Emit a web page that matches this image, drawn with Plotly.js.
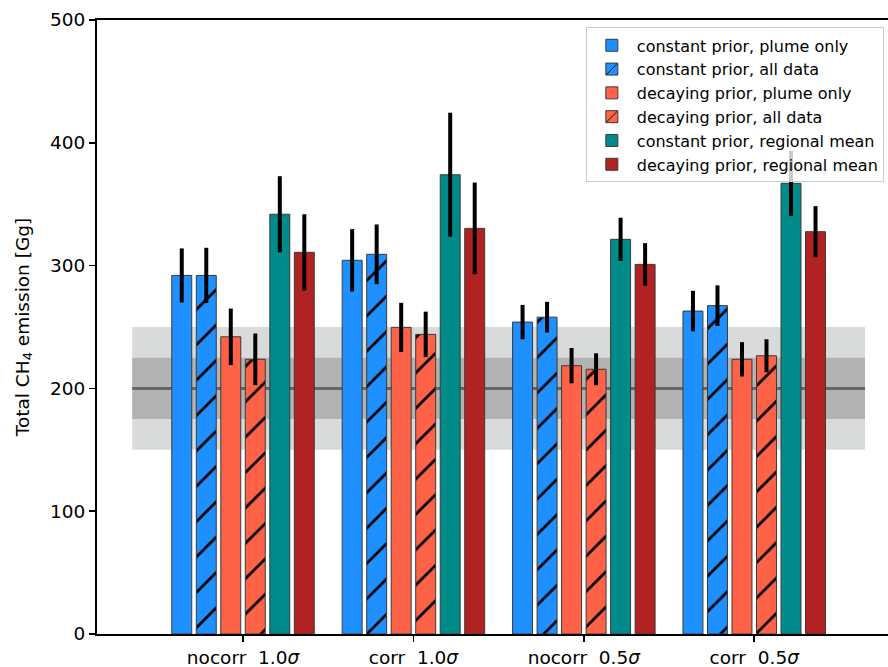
<!DOCTYPE html>
<html>
<head>
<meta charset="utf-8">
<script src="https://cdn.plot.ly/plotly-3.0.1.min.js"></script>
<style>
html, body { margin: 0; padding: 0; background: #fff; overflow: hidden; }
#chart { width: 888px; height: 667px; }
</style>
</head>
<body>
<div id="chart"></div>
<script>
// ---- data ----
const groups = ["nocorr&nbsp;&nbsp;1.0<i>σ</i>", "corr&nbsp;&nbsp;1.0<i>σ</i>", "nocorr&nbsp;&nbsp;0.5<i>σ</i>", "corr&nbsp;&nbsp;0.5<i>σ</i>"];
const seriesNames = [
  "constant prior, plume only",
  "constant prior, all data",
  "decaying prior, plume only",
  "decaying prior, all data",
  "constant prior, regional mean",
  "decaying prior, regional mean"
];
const constPlume      = [292, 304.3, 254, 263];
const constPlumeErr   = [22, 25.4, 14, 16.5];
const constAll        = [292, 309.2, 258, 267.4];
const constAllErr     = [22.5, 24.3, 12.5, 16.5];
const decayPlume      = [242, 249.7, 218.5, 223.7];
const decayPlumeErr   = [23, 20, 14.4, 14];
const decayAll        = [223.7, 244, 215.6, 226.6];
const decayAllErr     = [21, 18.5, 13, 13.4];
const constRegional   = [341.8, 374, 321.4, 367];
const constRegionalErr= [31, 50.5, 17.6, 26.6];
const decayRegional   = [310.8, 330.3, 301, 327.6];
const decayRegionalErr= [31, 37.3, 17.3, 20.8];

const priorValue = 200;
const priorOuter = [150, 250];
const priorInner = [175, 225];
const priorSpan  = [-0.65, 3.65];
// ---- end data ----

const colors = ["#1E90FF", "#1E90FF", "#FF6347", "#FF6347", "#008B8B", "#B22222"];
const hatched = [false, true, false, true, false, false];
const values = [constPlume, constAll, decayPlume, decayAll, constRegional, decayRegional];
const errors = [constPlumeErr, constAllErr, decayPlumeErr, decayAllErr, constRegionalErr, decayRegionalErr];

const traces = values.map((v, i) => ({
  type: "bar",
  name: seriesNames[i],
  x: groups,
  y: v,
  marker: {
    color: colors[i],
    line: { color: "#3a3a3a", width: 1 },
    pattern: hatched[i]
      ? { shape: "/", fgcolor: "#000000", fgopacity: 1, bgcolor: colors[i], size: 25, solidity: 0.11, fillmode: "overlay" }
      : { shape: "" }
  },
  error_y: { type: "data", array: errors[i], visible: true, color: "#000000", thickness: 4, width: 0 },
  hoverinfo: "skip"
}));

const layout = {
  width: 888,
  height: 667,
  margin: { l: 97, r: 0, t: 20, b: 33 },
  paper_bgcolor: "#ffffff",
  plot_bgcolor: "#ffffff",
  barmode: "group",
  bargap: 0.137,
  bargroupgap: 0.186,
  font: { family: "DejaVu Sans", color: "#000000", size: 17 },
  xaxis: {
    type: "category",
    range: [-0.857, 3.785],
    showline: true, linecolor: "#000000", linewidth: 2, mirror: true,
    ticks: "outside", ticklen: 6, tickwidth: 1.5, tickcolor: "#000000",
    tickfont: { family: "DejaVu Sans", size: 18.5, color: "#000000" },
    showgrid: false, zeroline: false, fixedrange: true
  },
  yaxis: {
    range: [0, 500],
    tickvals: [0, 100, 200, 300, 400, 500],
    showline: true, linecolor: "#000000", linewidth: 2,
    ticks: "outside", ticklen: 6, tickwidth: 1.5, tickcolor: "#000000",
    tickfont: { family: "DejaVu Sans", size: 18.5, color: "#000000" },
    showgrid: false, zeroline: false,
    title: { text: "Total CH<sub>4</sub> emission [Gg]", font: { family: "DejaVu Sans", size: 18.5, color: "#000000" }, standoff: 16 }
  },
  shapes: [
    { type: "rect", xref: "x", yref: "y", x0: priorSpan[0], x1: priorSpan[1], y0: priorOuter[0], y1: priorOuter[1],
      fillcolor: "#d9dada", line: { width: 0 }, layer: "below" },
    { type: "rect", xref: "x", yref: "y", x0: priorSpan[0], x1: priorSpan[1], y0: priorInner[0], y1: priorInner[1],
      fillcolor: "#b3b3b3", line: { width: 0 }, layer: "below" },
    { type: "line", xref: "x", yref: "y", x0: priorSpan[0], x1: priorSpan[1], y0: priorValue, y1: priorValue,
      line: { color: "#666666", width: 3 }, layer: "below" }
  ],
  showlegend: true,
  legend: {
    x: 0.618, y: 0.988, xanchor: "left", yanchor: "top",
    bgcolor: "rgba(255,255,255,0.8)", bordercolor: "#cccccc", borderwidth: 1,
    font: { family: "DejaVu Sans", size: 16, color: "#000000" },
    tracegroupgap: 0, itemwidth: 40, traceorder: "normal"
  }
};

Plotly.newPlot("chart", traces, layout, { displayModeBar: false, staticPlot: true });
</script>
</body>
</html>
